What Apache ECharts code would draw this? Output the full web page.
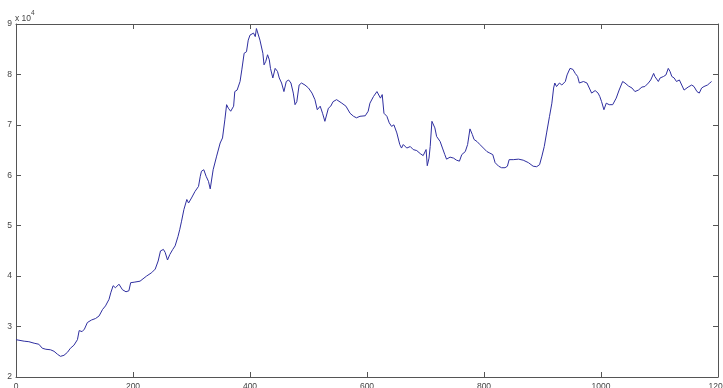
<!DOCTYPE html>
<html>
<head>
<meta charset="utf-8">
<script src="https://cdn.jsdelivr.net/npm/echarts@6/dist/echarts.min.js"></script>
<style>
html,body{margin:0;padding:0;background:#fff;}
#chart{width:723px;height:388px;}
</style>
</head>
<body>
<div id="chart"></div>
<script>
// x positions (sample index) and values (in units of 10^4)
var xValues = [0,14,22,31,39,45,51,59,65,71,76,82,88,93,99,105,108,113,117,122,129,136,142,148,153,159,162,166,170,176,182,188,193,196,202,212,
223,232,238,243,247,252,255,259,263,268,272,277,280,283,287,292,295,300,306,312,315,317,321,325,329,332,337,343,349,353,357,360,363,367,372,374,378,383,386,390,394,397,400,403,406,409,411,414,417,422,424,427,430,433,435,439,443,447,450,454,458,462,466,470,474,477,480,484,488,494,500,506,511,515,520,524,528,534,538,542,548,557,564,571,577,582,588,597,602,605,611,617,619,623,626,629,634,638,642,646,651,656,659,662,668,674,679,685,691,696,699,701,703,706,708,711,713,716,719,725,729,733,736,742,748,753,758,762,768,772,776,780,783,788,793,799,805,810,815,819,825,830,836,840,843,850,859,867,876,884,890,895,899,903,907,912,916,919,921,924,929,933,939,942,947,952,956,960,963,965,970,976,980,984,990,995,998,1001,1005,1009,1014,1020,1026,1031,1037,1041,1047,1053,1058,1064,1070,1075,1081,1085,1090,1092,1095,1098,1101,1107,1111,1115,1118,1121,1125,1129,1134,1138,1142,1145,1149,1155,1159,1164,1168,1172,1176,1182,1186,1189];
var yValues = [2.74,2.71,2.70,2.67,2.65,2.57,2.55,2.54,2.51,2.45,2.41,2.43,2.49,2.57,2.63,2.74,2.92,2.90,2.95,3.08,3.13,3.16,3.21,3.34,3.41,3.54,3.67,3.81,3.77,3.84,3.73,3.69,3.71,3.87,3.88,3.90,
4.00,4.07,4.14,4.30,4.50,4.53,4.47,4.32,4.43,4.53,4.60,4.79,4.93,5.09,5.32,5.52,5.45,5.55,5.68,5.78,5.98,6.08,6.11,5.98,5.88,5.73,6.11,6.38,6.64,6.74,7.10,7.40,7.33,7.27,7.37,7.66,7.69,7.86,8.09,8.42,8.45,8.68,8.78,8.75,8.82,8.75,8.91,8.88,8.68,8.42,8.19,8.26,8.39,8.29,8.12,7.93,8.12,8.06,7.93,7.83,7.66,7.86,7.89,7.83,7.63,7.40,7.46,7.79,7.83,7.79,7.73,7.63,7.50,7.30,7.37,7.23,7.07,7.33,7.37,7.46,7.50,7.43,7.37,7.23,7.17,7.14,7.17,7.18,7.27,7.43,7.56,7.66,7.63,7.53,7.60,7.23,7.17,7.04,6.97,7.00,6.84,6.61,6.54,6.61,6.54,6.57,6.51,6.49,6.43,6.39,6.41,6.51,6.19,6.34,6.57,7.07,7.07,6.94,6.77,6.67,6.54,6.41,6.32,6.36,6.34,6.30,6.28,6.41,6.47,6.61,6.92,6.81,6.71,6.67,6.61,6.54,6.47,6.44,6.41,6.25,6.18,6.15,6.15,6.18,6.31,6.31,6.32,6.30,6.25,6.18,6.17,6.21,6.38,6.57,6.84,7.17,7.43,7.73,7.83,7.76,7.83,7.79,7.86,7.99,8.12,8.10,8.02,7.96,7.83,7.86,7.86,7.83,7.73,7.63,7.68,7.63,7.56,7.46,7.30,7.43,7.40,7.40,7.53,7.69,7.86,7.83,7.77,7.73,7.66,7.69,7.75,7.76,7.83,7.89,8.02,7.96,7.99,7.86,7.93,7.96,7.99,8.12,8.06,7.96,7.93,7.86,7.89,7.79,7.69,7.66,7.75,7.79,7.76,7.66,7.63,7.73,7.76,7.79,7.83,7.86];
var xTicks = [0, 200, 400, 600, 800, 1000, 1200];
var yTicks = [2, 3, 4, 5, 6, 7, 8, 9];
var exponentLabel = '4';

var points = xValues.map(function (x, i) { return [x, yValues[i]]; });
var frameColor = '#555';
var labelColor = '#444';
var font = 'Liberation Sans, Arial, sans-serif';

var chart = echarts.init(document.getElementById('chart'), null, {renderer: 'canvas'});
chart.setOption({
  animation: false,
  backgroundColor: '#fff',
  grid: {left: 16, right: 5, top: 24, bottom: 11, containLabel: false, outerBoundsMode: 'none'},
  xAxis: [{
    type: 'value', min: xTicks[0], max: xTicks[xTicks.length - 1], interval: 200, position: 'bottom',
    axisLine: {show: true, lineStyle: {color: frameColor, width: 1}},
    axisTick: {show: true, inside: true, length: 5, lineStyle: {color: frameColor}},
    axisLabel: {show: true, color: labelColor, fontSize: 8.5, fontFamily: font, margin: 5,
      alignMinLabel: 'center', alignMaxLabel: 'center', hideOverlap: false,
      formatter: function (v) { return String(v); }},
    splitLine: {show: false}
  }, {
    type: 'value', min: xTicks[0], max: xTicks[xTicks.length - 1], interval: 200, position: 'top',
    axisLine: {show: true, onZero: false, lineStyle: {color: frameColor, width: 1}},
    axisTick: {show: true, inside: true, length: 5, lineStyle: {color: frameColor}},
    axisLabel: {show: false},
    splitLine: {show: false}
  }],
  yAxis: [{
    type: 'value', min: yTicks[0], max: yTicks[yTicks.length - 1], interval: 1, position: 'left',
    axisLine: {show: true, lineStyle: {color: frameColor, width: 1}},
    axisTick: {show: true, inside: true, length: 5, lineStyle: {color: frameColor}},
    axisLabel: {show: true, color: labelColor, fontSize: 8.5, fontFamily: font, margin: 4},
    splitLine: {show: false}
  }, {
    type: 'value', min: yTicks[0], max: yTicks[yTicks.length - 1], interval: 1, position: 'right',
    axisLine: {show: true, onZero: false, lineStyle: {color: frameColor, width: 1}},
    axisTick: {show: true, inside: true, length: 5, lineStyle: {color: frameColor}},
    axisLabel: {show: false},
    splitLine: {show: false}
  }],
  graphic: [{
    type: 'text', left: 15, top: 10,
    style: {
      text: '{a|x 10}{b|' + exponentLabel + '}',
      rich: {
        a: {fontSize: 8.5, fontFamily: font, fill: labelColor, verticalAlign: 'bottom', lineHeight: 12},
        b: {fontSize: 6.5, fontFamily: font, fill: labelColor, verticalAlign: 'top', padding: [0, 0, 6, 0]}
      }
    }
  }],
  series: [{
    type: 'line', xAxisIndex: 0, yAxisIndex: 0,
    data: points, showSymbol: false, symbol: 'none',
    lineStyle: {color: '#2f2fa0', width: 1},
    silent: true
  }]
});
</script>
</body>
</html>
